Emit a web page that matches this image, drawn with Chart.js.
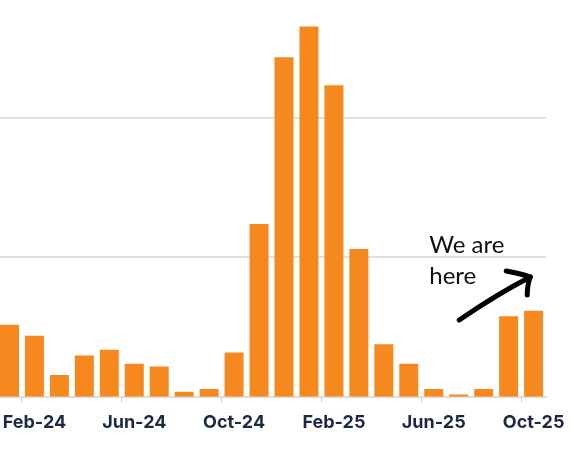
<!DOCTYPE html>
<html>
<head>
<meta charset="utf-8">
<script src="https://cdn.jsdelivr.net/npm/chart.js@4/dist/chart.umd.min.js"></script>
<style>
  html, body { margin: 0; padding: 0; background: #fff; }
  #wrap { position: absolute; left: -3px; top: 0; width: 577px; height: 450px; }
</style>
</head>
<body>
<div id="wrap"><canvas id="chart"></canvas></div>
<script>
// monthly values (one gridline = 100)
const months = ["Jan-24", "Feb-24", "Mar-24", "Apr-24", "May-24", "Jun-24", "Jul-24", "Aug-24",
  "Sep-24", "Oct-24", "Nov-24", "Dec-24", "Jan-25", "Feb-25", "Mar-25", "Apr-25",
  "May-25", "Jun-25", "Jul-25", "Aug-25", "Sep-25", "Oct-25"];
const values = [52, 44, 16, 30, 34, 24, 22, 4, 6, 32, 124, 243, 265, 223, 106, 38, 24, 6, 2, 6, 58, 62];
const shownLabels = ["Feb-24", "Jun-24", "Oct-24", "Feb-25", "Jun-25", "Oct-25"];
const noteLines = ["We are", "here"];

// hand drawn note + arrow next to the last bars
const notePlugin = {
  id: "note",
  afterDraw(chart) {
    const { ctx } = chart;
    const x = chart.scales.x;
    const y = chart.scales.y;
    const left = x.getPixelForValue(17) - 4.5;
    const top = y.getPixelForValue(100) - 4.5;
    ctx.save();
    ctx.fillStyle = "#111";
    ctx.font = "24px Lato";
    ctx.textBaseline = "alphabetic";
    ctx.fillText(noteLines[0], left, top);
    ctx.fillText(noteLines[1], left, top + 31);

    // arrow
    const sx = left + 30, sy = top + 67;
    const ex = left + 101, ey = top + 24;
    ctx.strokeStyle = "#000";
    ctx.lineWidth = 5;
    ctx.lineCap = "round";
    ctx.lineJoin = "round";
    ctx.beginPath();
    ctx.moveTo(sx, sy);
    ctx.quadraticCurveTo(sx + 38, sy - 26, ex, ey);
    ctx.stroke();
    ctx.beginPath();
    ctx.moveTo(ex - 24, ey - 6);
    ctx.quadraticCurveTo(ex - 8, ey - 3, ex, ey);
    ctx.quadraticCurveTo(ex - 3, ey + 8, ex - 3, ey + 18);
    ctx.stroke();
    ctx.restore();
  }
};

new Chart(document.getElementById("chart"), {
  type: "bar",
  data: {
    labels: months,
    datasets: [{
      data: values,
      backgroundColor: "#F5881F",
      borderWidth: 0,
      categoryPercentage: 1,
      barPercentage: 0.76
    }]
  },
  options: {
    responsive: true,
    maintainAspectRatio: false,
    animation: false,
    layout: { padding: { left: 0, right: 27, top: 0, bottom: 8 } },
    plugins: {
      legend: { display: false },
      tooltip: { enabled: false }
    },
    scales: {
      x: {
        grid: {
          drawOnChartArea: false,
          tickLength: 5,
          color: (c) => (c.index % 4 === 1 ? "#cfcfcf" : "rgba(0,0,0,0)")
        },
        border: { color: "#dcdcdc", width: 2 },
        ticks: {
          autoSkip: false,
          maxRotation: 0,
          padding: 9,
          color: "#1b2a44",
          font: { family: "Inter", size: 18, weight: "700" },
          callback: (v, i) => (shownLabels.includes(months[i]) ? months[i] : "")
        }
      },
      y: {
        min: 0,
        max: 284,
        grid: { color: "#e0e0e0", lineWidth: 2, drawTicks: false },
        border: { display: false },
        ticks: { display: false, stepSize: 100, includeBounds: false }
      }
    }
  },
  plugins: [notePlugin]
});
</script>
</body>
</html>
